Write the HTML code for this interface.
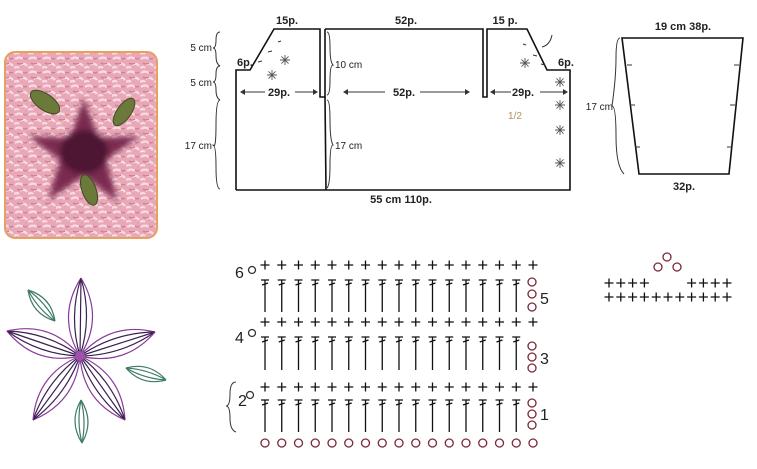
<!DOCTYPE html>
<html><head><meta charset="utf-8"><style>
html,body{margin:0;padding:0;background:#fff;width:757px;height:469px;overflow:hidden}
text{font-family:"Liberation Sans",sans-serif;fill:#222}
.b{font-weight:bold;font-size:11px}
.s{font-size:10px}
</style></head><body>
<svg id="s" width="757" height="469" viewBox="0 0 757 469" xmlns="http://www.w3.org/2000/svg">
<defs>
<pattern id="tex" width="14" height="14" patternUnits="userSpaceOnUse">
<rect width="14" height="14" fill="#e8a8b8"/>
<path d="M1 3q4-3 8 0M6 9q4-3 7 1M0 12q3-2 5 0" stroke="#f8dbe3" stroke-width="2.2" fill="none"/>
<path d="M3 7q3 2 6 0M9 2q2 2 4 0" stroke="#cf7a88" stroke-width="1.2" fill="none"/>
</pattern>
<filter id="blur"><feGaussianBlur stdDeviation="3"/></filter>
</defs>
<!-- photo -->
<rect x="5" y="52" width="152" height="186" rx="10" fill="url(#tex)" stroke="#e6a060" stroke-width="2"/>
<g filter="url(#blur)">
<path d="M84 98 L98 138 L140 136 L106 160 L118 202 L84 176 L48 200 L60 160 L28 136 L70 138 Z" fill="#7a2a50"/>
<ellipse cx="84" cy="152" rx="24" ry="22" fill="#4d1232"/>
</g>
<g fill="#6b7a3a" stroke="#3e4a20" stroke-width="1">
<ellipse cx="45" cy="102" rx="17" ry="8" transform="rotate(35 45 102)"/>
<ellipse cx="124" cy="112" rx="16" ry="7" transform="rotate(-55 124 112)"/>
<ellipse cx="89" cy="190" rx="16" ry="7" transform="rotate(70 89 190)"/>
</g>
<!-- flower -->
<g id="flower" fill="none" stroke-width="1.2"></g>
<circle cx="80" cy="356" r="5" fill="#a050b0"/>

<!-- body diagram -->
<g fill="none" stroke="#111" stroke-width="1.6">
<path d="M236 190 L236 70 L250 70 L274 29 L320 29 L320 97 L325 97 L325 29"/>
<path d="M325 29 L483 29 L483 97 L487 97 L487 29 L527 29 L547 70 L570 70 L570 190 L236 190"/>
<path d="M325 97 L326 190"/>
<path d="M622 38 L743 38 L729 174 L639 174 Z"/>
</g>
<g stroke="#333" stroke-width="1">
<path d="M627 65h5M630 105h5M635 147h5M739 65h-5M735 105h-5M732 147h-5"/>
<path d="M241 92h24M295 92h22M345 92h40M420 92h47M491 92h20M540 92h26"/>
<path d="M278 42l3-1M268 52l4-1M258 62l4-1M523 44l3 1M533 55l4 1M541 64l4 1"/>
</g>
<g fill="#333"><path d="M240 92l5-3v6zM318 92l-5-3v6zM343 92l5-3v6zM470 92l-5-3v6zM490 92l5-3v6zM568 92l-5-3v6z"/></g>
<path d="M552 35q-2 10-10 12" fill="none" stroke="#333" stroke-width="1"/>
<g fill="none" stroke="#333" stroke-width="1">
<path d="M220 32q-4 0-4 8t-3 8q3 0 3 8t4 10q-4 0-4 8t-3 8q3 0 3 8t4 10q-4 0-4 25t-3 20q3 0 3 22t4 22"/>
<path d="M327 32q3 0 3 15t3 18q-3 0-3 15t-3 15"/>
<path d="M327 100q3 0 3 20t3 25q-3 0-3 20t-3 23"/>
<path d="M620 38q-4 0-4 20t-4 48q4 0 4 30t8 38"/>
</g>
<g fill="none" stroke="#555" stroke-width="0.9" id="stars"></g>
<text x="287" y="24" class="b" text-anchor="middle">15p.</text>
<text x="406" y="24" class="b" text-anchor="middle">52p.</text>
<text x="505" y="24" class="b" text-anchor="middle">15 p.</text>
<text x="245" y="66" class="b" text-anchor="middle">6p.</text>
<text x="566" y="66" class="b" text-anchor="middle">6p.</text>
<text x="279" y="96" class="b" text-anchor="middle">29p.</text>
<text x="404" y="96" class="b" text-anchor="middle">52p.</text>
<text x="523" y="96" class="b" text-anchor="middle">29p.</text>
<text x="335" y="68" class="s">10 cm</text>
<text x="335" y="149" class="s">17 cm</text>
<text x="515" y="119" class="s" text-anchor="middle" style="fill:#b09060">1/2</text>
<text x="401" y="203" class="b" text-anchor="middle">55 cm   110p.</text>
<text x="212" y="51" class="s" text-anchor="end">5 cm</text>
<text x="212" y="86" class="s" text-anchor="end">5 cm</text>
<text x="212" y="149" class="s" text-anchor="end">17 cm</text>
<text x="683" y="30" class="b" text-anchor="middle">19 cm   38p.</text>
<text x="613" y="110" class="s" text-anchor="end">17 cm</text>
<text x="684" y="190" class="b" text-anchor="middle">32p.</text>

<g id="chart" stroke="#111" stroke-width="1.3" fill="none"></g>
<g fill="none" stroke="#7a2a3a" stroke-width="1.3" id="circ"></g>
<g style="font-size:16px">
<text x="235" y="278">6</text><text x="235" y="343">4</text><text x="238" y="406">2</text>
<text x="540" y="304">5</text><text x="540" y="364">3</text><text x="540" y="420">1</text>
</g>
<path d="M236 382q-6 0-6 12t-4 12q4 0 4 12t6 14" fill="none" stroke="#333" stroke-width="1"/>
</svg>
<script>
var NS="http://www.w3.org/2000/svg";
function el(p,t,a){var e=document.createElementNS(NS,t);for(var k in a)e.setAttribute(k,a[k]);document.getElementById(p).appendChild(e);}
var st=16.75,x0=265;
function plus(g,x,y,s){el(g,"path",{d:"M"+(x-s)+" "+y+"h"+2*s+"M"+x+" "+(y-s)+"v"+2*s});}
[265,322,387].forEach(function(y){for(var i=0;i<17;i++)plus("chart",x0+i*st,y,4.5);});
[[280,312],[337,370],[400,432]].forEach(function(r){for(var i=0;i<16;i++){var x=x0+i*st;el("chart","path",{d:"M"+x+" "+r[0]+"V"+r[1]+"M"+(x-4)+" "+r[0]+"h8M"+(x-3)+" "+(r[0]+5)+"l6 -2"});}});
for(var i=0;i<17;i++)el("circ","circle",{cx:x0+i*st,cy:443,r:4});
[282,294,307,346,357,368,403,414,425].forEach(function(y){el("circ","circle",{cx:532,cy:y,r:4});});
[[252,270],[252,333],[250,395]].forEach(function(c){el("circ","circle",{cx:c[0],cy:c[1],r:3.5,stroke:"#333"});});
[[658,267],[667,257],[677,267]].forEach(function(c){el("circ","circle",{cx:c[0],cy:c[1],r:4});});
for(var i=0;i<11;i++){var x=609+i*11.8;plus("chart",x,297,4.5);if(i<4||i>6)plus("chart",x,283,4.5);}
[[285,60],[272,75],[525,63],[560,82],[560,105],[560,130],[560,163]].forEach(function(c){var x=c[0],y=c[1],d="";for(var a=0;a<4;a++){var t=a*Math.PI/4,dx=5*Math.cos(t),dy=5*Math.sin(t);d+="M"+(x-dx)+" "+(y-dy)+"L"+(x+dx)+" "+(y+dy);}el("stars","path",{d:d});});
var c=[80,356],tips=[[81,278],[7,331],[155,332],[33,420],[125,420]];
tips.forEach(function(t){var dx=t[0]-c[0],dy=t[1]-c[1],L=Math.hypot(dx,dy),nx=-dy/L,ny=dx/L,mx=(c[0]+t[0])/2,my=(c[1]+t[1])/2;
[-24,-12,0,12,24].forEach(function(w){var col=Math.abs(w)==24?"#8a3a9a":"#3a2050";el("flower","path",{d:"M"+c[0]+" "+c[1]+"Q"+(mx+nx*w)+" "+(my+ny*w)+" "+t[0]+" "+t[1],stroke:col});});});
[[[28,290],[55,321]],[[126,368],[166,380]],[[81,400],[82,443]]].forEach(function(l){var a=l[0],b=l[1],dx=b[0]-a[0],dy=b[1]-a[1],L=Math.hypot(dx,dy),nx=-dy/L,ny=dx/L,mx=(a[0]+b[0])/2,my=(a[1]+b[1])/2;
[-13,-5,5,13].forEach(function(w){el("flower","path",{d:"M"+a[0]+" "+a[1]+"Q"+(mx+nx*w)+" "+(my+ny*w)+" "+b[0]+" "+b[1],stroke:"#3f7a6a"});});});
</script>
</body></html>
